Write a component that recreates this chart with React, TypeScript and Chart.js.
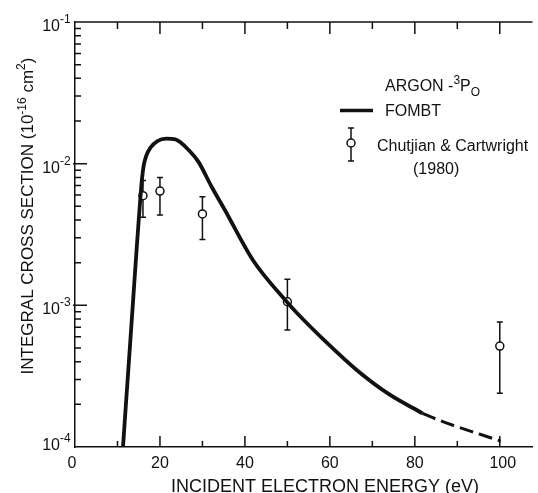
import React, { useEffect, useRef } from 'react';
import { Chart, registerables } from 'chart.js';

Chart.register(...registerables);

// FOMBT theory curve (solid part)
const curveX = [11.3, 12.09, 12.91, 13.72, 14.53, 15.23, 15.7, 16.16, 16.74, 17.79, 19.4, 21.51, 23.65, 24.88, 26.74, 29.07, 32.16, 35.28, 41.86, 49.84, 52.3, 59.7, 66.3, 74.0, 81.8];
const curveY = [1e-4, 2.22e-4, 5.0e-4, 1.13e-3, 2.54e-3, 4.95e-3, 7.43e-3, 9.64e-3, 1.13e-2, 1.3e-2, 1.445e-2, 1.5e-2, 1.486e-2, 1.41e-2, 1.25e-2, 1.03e-2, 6.87e-3, 4.71e-3, 2.09e-3, 1.06e-3, 8.8e-4, 5.3e-4, 3.5e-4, 2.35e-4, 1.73e-4];
// FOMBT theory curve (dashed part)
const dashX = [81.8, 84.9, 88.8, 95.7, 100.2];
const dashY = [1.73e-4, 1.58e-4, 1.43e-4, 1.22e-4, 1.1e-4];
// Chutjian & Cartwright (1980)
const expX = [16, 20, 30, 50, 100];
const expY = [5.94e-3, 6.41e-3, 4.42e-3, 1.06e-3, 5.16e-4];
const expHi = [7.6e-3, 8.0e-3, 5.85e-3, 1.53e-3, 7.63e-4];
const expLo = [4.19e-3, 4.35e-3, 2.92e-3, 6.7e-4, 2.4e-4];

const xLabelValues = [0, 20, 40, 60, 80, 100];
const xLabels = ['0', '20', '40', '60', '80', '100'];
const xMajor = [20, 40, 60, 80, 100];
const xMinor = [10, 30, 50, 70, 90];
const yDecades = [1e-1, 1e-2, 1e-3, 1e-4];
const yExps = ['-1', '-2', '-3', '-4'];
const yMinorMult = [2, 3, 4, 5, 6, 7, 8, 9];

const FONT = '"Liberation Sans", Arial, sans-serif';
const INK = '#111';

type Part = { t: string; s: number; dy?: number };

function richWidth(ctx: CanvasRenderingContext2D, parts: Part[]) {
  let w = 0;
  for (const p of parts) {
    ctx.font = `${p.s}px ${FONT}`;
    w += ctx.measureText(p.t).width;
  }
  return w;
}

function drawRich(ctx: CanvasRenderingContext2D, x: number, y: number, parts: Part[], align: 'left' | 'center' | 'right') {
  const w = richWidth(ctx, parts);
  let cx = align === 'left' ? x : align === 'center' ? x - w / 2 : x - w;
  ctx.textAlign = 'left';
  ctx.textBaseline = 'alphabetic';
  for (const p of parts) {
    ctx.font = `${p.s}px ${FONT}`;
    ctx.fillText(p.t, cx, y + (p.dy || 0));
    cx += ctx.measureText(p.t).width;
  }
}

const errorBarsPlugin = {
  id: 'errorBars',
  beforeDatasetsDraw(chart: any) {
    const { ctx, scales } = chart;
    const xs = scales.x, ys = scales.y;
    ctx.save();
    ctx.strokeStyle = INK;
    ctx.lineWidth = 1.5;
    for (let i = 0; i < expX.length; i++) {
      const px = xs.getPixelForValue(expX[i]);
      const top = ys.getPixelForValue(expHi[i]);
      const bot = ys.getPixelForValue(expLo[i]);
      ctx.beginPath();
      ctx.moveTo(px, top); ctx.lineTo(px, bot);
      ctx.moveTo(px - 3, top); ctx.lineTo(px + 3, top);
      ctx.moveTo(px - 3, bot); ctx.lineTo(px + 3, bot);
      ctx.stroke();
    }
    ctx.restore();
  },
};

const decorPlugin = {
  id: 'decor',
  afterDraw(chart: any) {
    const { ctx, scales, chartArea } = chart;
    const xs = scales.x, ys = scales.y;
    const { left, right, top, bottom } = chartArea;
    ctx.save();
    ctx.strokeStyle = INK;
    ctx.fillStyle = INK;
    ctx.lineWidth = 1.5;
    // top frame line
    ctx.beginPath();
    ctx.moveTo(left, top); ctx.lineTo(right, top);
    ctx.stroke();
    // x ticks (inward), bottom and top
    ctx.beginPath();
    for (const v of xMajor) {
      const px = xs.getPixelForValue(v);
      ctx.moveTo(px, bottom); ctx.lineTo(px, bottom - 11);
      ctx.moveTo(px, top); ctx.lineTo(px, top + 12);
    }
    for (const v of xMinor) {
      const px = xs.getPixelForValue(v);
      ctx.moveTo(px, bottom); ctx.lineTo(px, bottom - 6);
      ctx.moveTo(px, top); ctx.lineTo(px, top + 7);
    }
    // y ticks (inward)
    for (const d of yDecades) {
      const py = ys.getPixelForValue(d);
      if (d > 1e-4 && d < 1e-1) { ctx.moveTo(left - 2, py); ctx.lineTo(left + 12, py); }
      if (d > 1e-4) {
        for (const m of yMinorMult) {
          const yy = ys.getPixelForValue(d * m / 10);
          ctx.moveTo(left, yy); ctx.lineTo(left + 6, yy);
        }
      }
    }
    ctx.stroke();

    // x tick labels
    ctx.font = `16px ${FONT}`;
    ctx.textAlign = 'center';
    ctx.textBaseline = 'alphabetic';
    xLabelValues.forEach((v, i) => {
      const px = xs.getPixelForValue(v) + (v === 0 ? -3 : v === 100 ? 3 : 0);
      ctx.fillText(xLabels[i], px, 468);
    });
    // y tick labels
    yDecades.forEach((d, i) => {
      let py = ys.getPixelForValue(d);
      if (d === 1e-4) py -= 6;
      drawRich(ctx, 60, py + 9, [{ t: '10', s: 16 }], 'right');
      drawRich(ctx, 60, py + 1, [{ t: yExps[i], s: 12 }], 'left');
    });

    // axis titles
    drawRich(ctx, 325, 492, [{ t: 'INCIDENT ELECTRON ENERGY (eV)', s: 18 }], 'center');
    ctx.save();
    ctx.translate(33, 216);
    ctx.rotate(-Math.PI / 2);
    drawRich(ctx, 0, 0, [
      { t: 'INTEGRAL CROSS SECTION (10', s: 17 },
      { t: '-16', s: 12, dy: -7 },
      { t: ' cm', s: 17 },
      { t: '2', s: 12, dy: -8 },
      { t: ')', s: 17 },
    ], 'center');
    ctx.restore();

    // legend / annotations
    drawRich(ctx, 385, 91, [
      { t: 'ARGON -', s: 16 },
      { t: '3', s: 12, dy: -7 },
      { t: 'P', s: 16 },
      { t: 'O', s: 12, dy: 5 },
    ], 'left');
    ctx.lineWidth = 3.5;
    ctx.beginPath();
    ctx.moveTo(340, 110.5); ctx.lineTo(373, 110.5);
    ctx.stroke();
    drawRich(ctx, 385, 116, [{ t: 'FOMBT', s: 16 }], 'left');
    ctx.lineWidth = 1.5;
    ctx.beginPath();
    ctx.moveTo(351, 128); ctx.lineTo(351, 161);
    ctx.moveTo(348, 128); ctx.lineTo(354, 128);
    ctx.moveTo(348, 161); ctx.lineTo(354, 161);
    ctx.stroke();
    ctx.beginPath();
    ctx.arc(351, 143, 4, 0, Math.PI * 2);
    ctx.fillStyle = '#fff';
    ctx.fill();
    ctx.stroke();
    ctx.fillStyle = INK;
    drawRich(ctx, 377, 151, [{ t: 'Chutjian & Cartwright', s: 16 }], 'left');
    drawRich(ctx, 413, 174, [{ t: '(1980)', s: 16 }], 'left');
    ctx.restore();
  },
};

export default function App() {
  const ref = useRef<HTMLCanvasElement | null>(null);
  useEffect(() => {
    if (!ref.current) return;
    const chart = new Chart(ref.current, {
      type: 'scatter',
      data: {
        datasets: [
          {
            label: 'FOMBT',
            data: curveX.map((x, i) => ({ x, y: curveY[i] })),
            showLine: true,
            borderColor: INK,
            borderWidth: 3.8,
            pointRadius: 0,
            cubicInterpolationMode: 'monotone',
            fill: false,
          },
          {
            label: 'FOMBT (extrapolated)',
            data: dashX.map((x, i) => ({ x, y: dashY[i] })),
            showLine: true,
            borderColor: INK,
            borderWidth: 3,
            borderDash: [14, 6],
            pointRadius: 0,
            cubicInterpolationMode: 'monotone',
            fill: false,
          },
          {
            label: 'Chutjian & Cartwright (1980)',
            data: expX.map((x, i) => ({ x, y: expY[i] })),
            showLine: false,
            pointRadius: 4,
            pointBackgroundColor: '#fff',
            pointBorderColor: INK,
            pointBorderWidth: 1.5,
          },
        ],
      },
      options: {
        responsive: false,
        animation: false,
        layout: { padding: { left: 75, top: 22, right: 0, bottom: 46 } },
        plugins: { legend: { display: false }, tooltip: { enabled: false } },
        scales: {
          x: {
            type: 'linear', min: 0, max: 107.7,
            ticks: { display: false },
            grid: { display: false, drawTicks: false },
            border: { display: true, color: INK, width: 1.5 },
          },
          y: {
            type: 'logarithmic', min: 1e-4, max: 1e-1,
            ticks: { display: false },
            grid: { display: false, drawTicks: false },
            border: { display: true, color: INK, width: 1.5 },
          },
        },
      } as any,
      plugins: [errorBarsPlugin, decorPlugin],
    });
    return () => chart.destroy();
  }, []);
  return (
    <div style={{ position: 'fixed', left: 0, top: 0, width: 538, height: 493, background: '#fff' }}>
      <canvas ref={ref} width={538} height={493} />
    </div>
  );
}
